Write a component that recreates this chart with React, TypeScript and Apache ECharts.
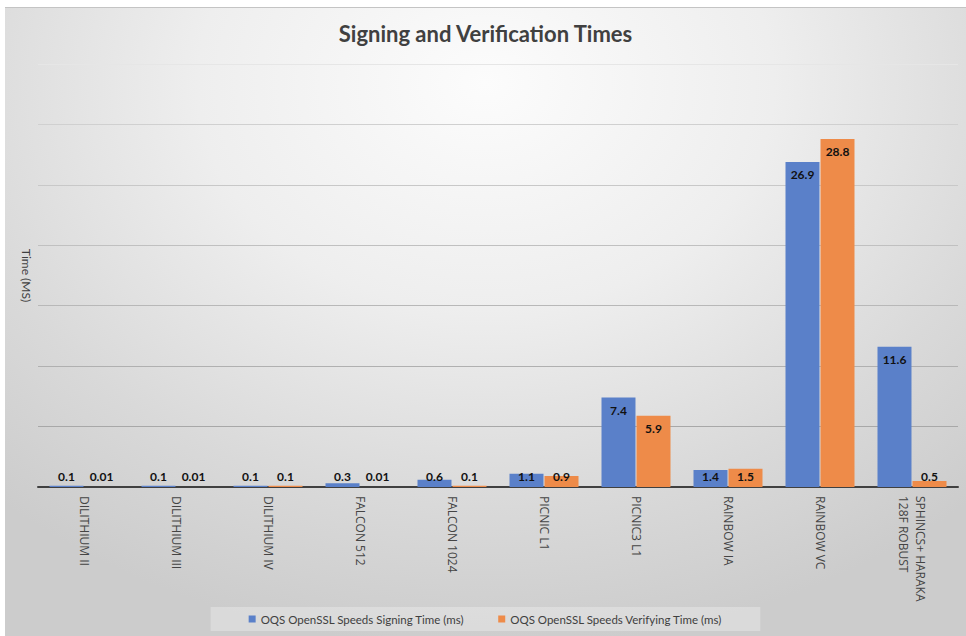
import React, { useEffect, useRef } from "react";
import * as echarts from "echarts";

const categories = [
  "DILITHIUM II",
  "DILITHIUM III",
  "DILITHIUM IV",
  "FALCON 512",
  "FALCON 1024",
  "PICNIC L1",
  "PICNIC3 L1",
  "RAINBOW IA",
  "RAINBOW VC",
  "SPHINCS+ HARAKA\n128F ROBUST",
];

const signingTimes = [0.1, 0.1, 0.1, 0.3, 0.6, 1.1, 7.4, 1.4, 26.9, 11.6];
const verifyingTimes = [0.01, 0.01, 0.1, 0.01, 0.1, 0.9, 5.9, 1.5, 28.8, 0.5];

const seriesNames = [
  "OQS OpenSSL Speeds Signing Time (ms)",
  "OQS OpenSSL Speeds Verifying Time (ms)",
];

const FONT = "Lato, 'Open Sans', sans-serif";
// Bars shorter than this carry their label at the base instead of the top.
const SHORT_BAR = 2.5;

const toData = (values: number[]) =>
  values.map((v) => ({
    value: v,
    label: {
      position: v < SHORT_BAR ? "insideBottom" : "insideTop",
      distance: v < SHORT_BAR ? 5 : 7,
    },
  }));

export default function App() {
  const ref = useRef<HTMLDivElement>(null);

  useEffect(() => {
    if (!ref.current) return;
    const chart = echarts.init(ref.current, undefined, { renderer: "svg" });
    const valueLabel = {
      show: true,
      color: "#111",
      fontWeight: "bold" as const,
      fontSize: 12,
      fontFamily: FONT,
    };
    chart.setOption({
      animation: false,
      backgroundColor: "transparent",
      title: {
        text: "Signing and Verification Times",
        left: "center",
        top: 9,
        textStyle: {
          fontFamily: FONT,
          fontSize: 22,
          fontWeight: "bold",
          color: "#404040",
        },
      },
      legend: {
        bottom: 5,
        left: "center",
        icon: "rect",
        itemWidth: 7,
        itemHeight: 7,
        itemGap: 34,
        padding: [6, 38, 6, 38],
        backgroundColor: "rgba(255,255,255,0.28)",
        textStyle: { fontFamily: FONT, fontSize: 11.5, color: "#404040" },
        data: seriesNames,
      },
      grid: { left: 33, right: 8, top: 56, bottom: 149 },
      xAxis: {
        type: "category",
        data: categories,
        axisTick: { show: false },
        axisLine: { lineStyle: { color: "#404040", width: 2 } },
        axisLabel: {
          rotate: -90,
          margin: 9,
          fontFamily: "'Open Sans', sans-serif",
          fontSize: 12,
          color: "#444",
          interval: 0,
          lineHeight: 17,
        },
      },
      yAxis: {
        type: "value",
        min: 0,
        max: 35,
        interval: 5,
        name: "Time (MS)",
        nameLocation: "middle",
        nameRotate: -90,
        nameGap: 6,
        nameTextStyle: { fontFamily: FONT, fontSize: 12, color: "#404040" },
        axisLabel: { show: false },
        axisLine: { show: false },
        axisTick: { show: false },
        splitLine: {
          lineStyle: {
            color: [
              "#9a9a9a",
              "#a8a8a8",
              "#b0b0b0",
              "#b8b8b8",
              "#c0c0c0",
              "#c8c8c8",
              "#d0d0d0",
              "#e6e6e6",
            ],
            width: 1,
          },
        },
      },
      series: [
        {
          name: seriesNames[0],
          type: "bar",
          data: toData(signingTimes),
          barGap: "3%",
          barCategoryGap: "25%",
          itemStyle: { color: "#5a80c9" },
          label: valueLabel,
        },
        {
          name: seriesNames[1],
          type: "bar",
          data: toData(verifyingTimes),
          itemStyle: { color: "#ee8b49" },
          label: valueLabel,
        },
      ],
    });
    return () => chart.dispose();
  }, []);

  return (
    <div
      style={{
        position: "absolute",
        left: 0,
        top: 0,
        width: 966,
        height: 636,
        background: "#fff",
        overflow: "hidden",
      }}
    >
      <div
        ref={ref}
        style={{
          position: "absolute",
          left: 5,
          top: 7,
          width: 961,
          height: 629,
          borderTop: "1px solid #c4c4c4",
          boxSizing: "border-box",
          background:
            "radial-gradient(ellipse 75% 90% at 50% 12%, #fcfcfc 0%, #eeeeee 40%, #d9d9d9 75%, #cccccc 100%)",
        }}
      />
    </div>
  );
}
